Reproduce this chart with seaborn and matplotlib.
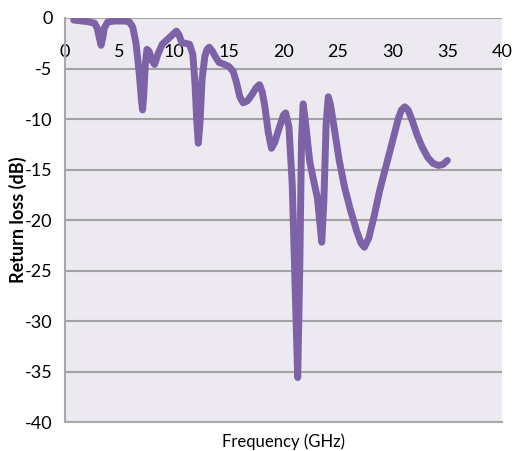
import matplotlib
matplotlib.use("Agg")
import matplotlib.pyplot as plt
import seaborn as sns
import pandas as pd

# Measured return loss of the antenna versus frequency
freq_ghz = [0.8, 2.0, 2.7, 2.95, 3.15, 3.3, 3.45, 3.6, 3.9, 4.5, 5.5, 5.9, 6.2,
            6.5, 6.8, 7.0, 7.1, 7.2, 7.35, 7.5, 7.7, 7.95, 8.2, 8.5, 8.9, 9.5,
            9.9, 10.2, 10.45, 10.7, 11.0, 11.4, 11.7, 11.9, 12.05, 12.2, 12.35,
            12.55, 12.8, 13.0, 13.2, 13.5, 13.8, 14.1, 14.6, 15.0, 15.4, 15.7,
            16.0, 16.3, 16.7, 17.1, 17.5, 17.8, 18.05, 18.3, 18.6, 18.9, 19.2,
            19.6, 20.0, 20.2, 20.5, 20.8, 21.1, 21.3, 21.5, 21.65, 21.8, 22.0,
            22.4, 22.8, 23.1, 23.35, 23.5, 23.7, 23.9, 24.1, 24.3, 24.6, 25.1,
            25.6, 26.1, 26.7, 27.1, 27.4, 27.8, 28.3, 28.8, 29.4, 30.0, 30.5,
            30.8, 31.1, 31.4, 31.8, 32.2, 32.7, 33.2, 33.7, 34.2, 34.6, 35.0]
return_loss_db = [-0.2, -0.35, -0.5, -1.0, -2.0, -2.7, -2.0, -1.0, -0.4, -0.3,
                  -0.3, -0.4, -0.9, -2.5, -5.5, -8.2, -9.1, -7.8, -4.6, -3.1,
                  -3.3, -4.2, -4.6, -3.6, -2.6, -2.0, -1.6, -1.3, -1.7, -2.5,
                  -2.5, -2.6, -3.6, -6.5, -10.0, -12.4, -10.5, -6.0, -3.8, -3.1,
                  -2.9, -3.3, -3.9, -4.4, -4.6, -4.8, -5.3, -6.4, -7.8, -8.4,
                  -8.2, -7.6, -6.9, -6.6, -7.3, -8.8, -11.3, -12.9, -12.3,
                  -10.9, -9.6, -9.4, -10.8, -16.5, -28.0, -35.6, -24.0, -12.0,
                  -8.5, -10.2, -14.2, -16.3, -17.8, -20.5, -22.2, -18.0, -10.5,
                  -7.8, -8.6, -10.6, -14.1, -16.8, -18.9, -21.1, -22.3, -22.7,
                  -21.8, -19.6, -17.1, -14.6, -12.1, -10.0, -9.1, -8.8, -9.1,
                  -10.2, -11.5, -12.8, -13.8, -14.4, -14.6, -14.5, -14.1]

x_ticks = [0, 5, 10, 15, 20, 25, 30, 35, 40]
y_ticks = [0, -5, -10, -15, -20, -25, -30, -35, -40]

df = pd.DataFrame({"Frequency (GHz)": freq_ghz, "Return loss (dB)": return_loss_db})

sns.set_theme(style="white")
plt.rcParams["font.family"] = ["Lato", "DejaVu Sans"]

fig = plt.figure(figsize=(5.15, 4.51), dpi=100)
ax = fig.add_axes([65 / 515, 1 - 422 / 451, (502 - 65) / 515, (422 - 18) / 451])
ax.set_facecolor("#ECE9F0")

sns.lineplot(data=df, x="Frequency (GHz)", y="Return loss (dB)", ax=ax,
             sort=False, estimator=None, color="#7E62A8", linewidth=5.0,
             solid_joinstyle="round", solid_capstyle="round")

ax.set_xlim(0, 40)
ax.set_ylim(-40, 0)
ax.set_xticks(x_ticks)
ax.set_yticks(y_ticks)
ax.set_yticklabels([str(v) for v in y_ticks])

# horizontal gridlines only
ax.yaxis.grid(True, color="#A3A3A3", linewidth=1.5)
ax.xaxis.grid(False)
ax.set_axisbelow(True)

for side in ["top", "right"]:
    ax.spines[side].set_visible(False)
for side in ["left", "bottom"]:
    ax.spines[side].set_color("#A8A8A8")
    ax.spines[side].set_linewidth(1.5)

# frequency labels sit just under the 0 dB line, inside the plot
ax.tick_params(axis="x", bottom=False, top=False, labelbottom=False,
               labeltop=True, length=0, pad=-30, labelsize=13,
               labelcolor="black")
ax.tick_params(axis="y", left=False, length=0, pad=9, labelsize=13,
               labelcolor="black")

ax.set_xlabel("Frequency (GHz)", fontsize=12, labelpad=8, color="black")
ax.xaxis.set_label_position("bottom")
ax.set_ylabel("Return loss (dB)", fontsize=13, fontweight="bold",
              color="black")
ax.yaxis.set_label_coords(-0.087, 0.5)

fig.savefig("out.png", dpi=100, facecolor="white")
